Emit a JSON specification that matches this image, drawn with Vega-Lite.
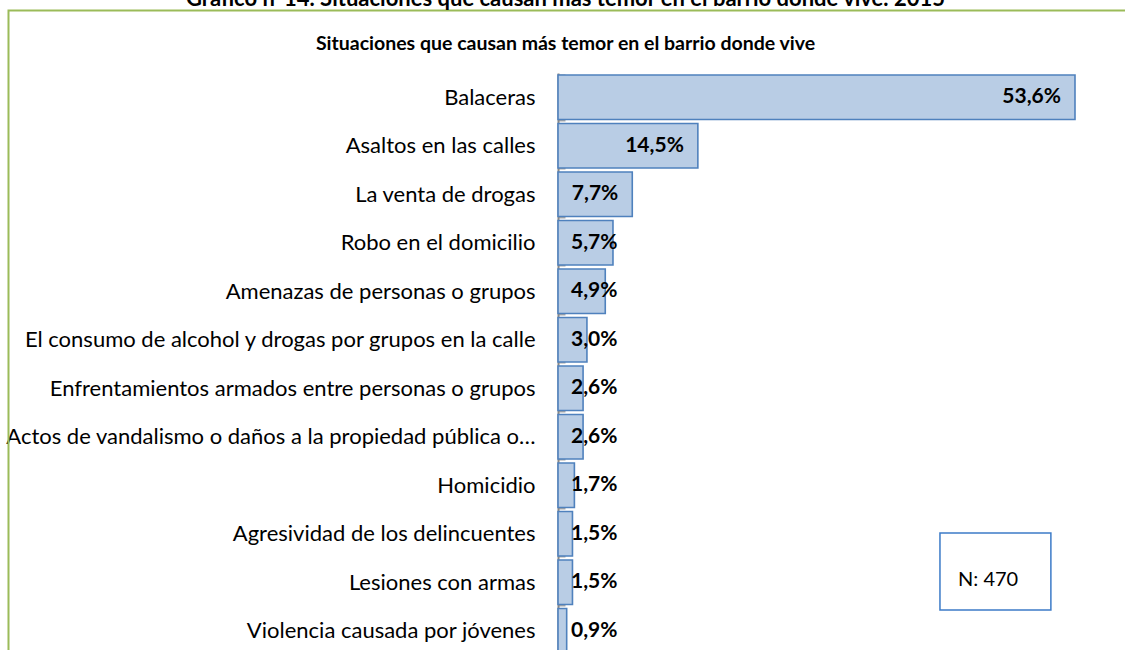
{
  "$schema": "https://vega.github.io/schema/vega-lite/v6.json",
  "autosize": {"type": "none"},
  "width": 517,
  "height": 582,
  "padding": {"left": 558, "top": 73, "right": 50, "bottom": 0},
  "background": "white",
  "config": {
    "font": "Lato",
    "view": {"stroke": null},
    "locale": {"number": {"decimal": ",", "thousands": ".", "grouping": [3], "currency": ["", " €"]}}
  },
  "title": {
    "text": "Gráfico n°14. Situaciones que causan más temor en el barrio donde vive. 2015",
    "subtitle": "Situaciones que causan más temor en el barrio donde vive",
    "anchor": "middle",
    "frame": "group",
    "dx": -251,
    "fontSize": 22,
    "fontWeight": "bold",
    "color": "#000000",
    "subtitleFontSize": 19.5,
    "subtitleFontWeight": "bold",
    "subtitleColor": "#000000",
    "subtitlePadding": 24,
    "offset": -45
  },
  "data": {
    "values": [
      {"cat": "Balaceras", "v": 0.536},
      {"cat": "Asaltos en las calles", "v": 0.145},
      {"cat": "La venta de drogas", "v": 0.077},
      {"cat": "Robo en el domicilio", "v": 0.057},
      {"cat": "Amenazas de personas o grupos", "v": 0.049},
      {"cat": "El consumo de alcohol y drogas por grupos en la calle", "v": 0.030},
      {"cat": "Enfrentamientos armados entre personas o grupos", "v": 0.026},
      {"cat": "Actos de vandalismo o daños a la propiedad pública o…", "v": 0.026},
      {"cat": "Homicidio", "v": 0.017},
      {"cat": "Agresividad de los delincuentes", "v": 0.015},
      {"cat": "Lesiones con armas", "v": 0.015},
      {"cat": "Violencia causada por jóvenes", "v": 0.009}
    ]
  },
  "resolve": {"scale": {"y": "independent"}},
  "layer": [
    {
      "layer": [
        {
          "mark": {"type": "bar", "fill": "#b9cde5", "stroke": "#4f81bd", "strokeWidth": 1.6},
          "encoding": {
            "y": {
              "field": "cat", "type": "nominal", "sort": null,
              "scale": {"paddingInner": 0.08, "paddingOuter": 0.04},
              "axis": {
                "title": null,
                "labelFontSize": 22,
                "labelColor": "#000000",
                "labelLimit": 0,
                "labelPadding": 30,
                "domainColor": "#888888",
                "domainWidth": 2,
                "tickColor": "#a6a6a6",
                "tickWidth": 2,
                "tickSize": -7,
                "tickBand": "extent"
              }
            },
            "x": {
              "field": "v", "type": "quantitative",
              "scale": {"domain": [0, 0.536], "nice": false},
              "axis": null
            }
          }
        },
        {
          "transform": [{"filter": "datum.v >= 0.07"}],
          "mark": {"type": "text", "align": "right", "baseline": "middle", "dx": -14, "fontSize": 21, "fontWeight": "bold", "color": "#000000"},
          "encoding": {
            "y": {"field": "cat", "type": "nominal", "sort": null},
            "x": {"field": "v", "type": "quantitative"},
            "text": {"field": "v", "type": "quantitative", "format": ".1%"}
          }
        },
        {
          "transform": [{"filter": "datum.v < 0.07"}],
          "mark": {"type": "text", "align": "left", "baseline": "middle", "dx": 13, "fontSize": 21, "fontWeight": "bold", "color": "#000000"},
          "encoding": {
            "y": {"field": "cat", "type": "nominal", "sort": null},
            "x": {"datum": 0, "type": "quantitative"},
            "text": {"field": "v", "type": "quantitative", "format": ".1%"}
          }
        }
      ]
    },
    {
      "data": {"values": [{}]},
      "layer": [
        {
          "mark": {"type": "rect", "fill": null, "stroke": "#9bbb59", "strokeWidth": 2},
          "encoding": {
            "x": {"datum": -0.5697, "type": "quantitative", "scale": {"domain": [0, 0.536], "nice": false}, "axis": null},
            "x2": {"datum": 0.6},
            "y": {"datum": -1.289, "type": "quantitative", "scale": {"domain": [0, 12], "reverse": true, "nice": false, "zero": false}, "axis": null},
            "y2": {"datum": 13}
          }
        },
        {
          "mark": {"type": "rect", "fill": null, "stroke": "#3c7bc8", "strokeWidth": 1.5},
          "encoding": {
            "x": {"datum": 0.396, "type": "quantitative"},
            "x2": {"datum": 0.511},
            "y": {"datum": 9.485, "type": "quantitative"},
            "y2": {"datum": 11.07}
          }
        },
        {
          "mark": {"type": "text", "align": "left", "baseline": "middle", "fontSize": 20, "color": "#000000"},
          "encoding": {
            "x": {"datum": 0.4147, "type": "quantitative"},
            "y": {"datum": 10.45, "type": "quantitative"},
            "text": {"value": "N: 470"}
          }
        }
      ]
    }
  ]
}
